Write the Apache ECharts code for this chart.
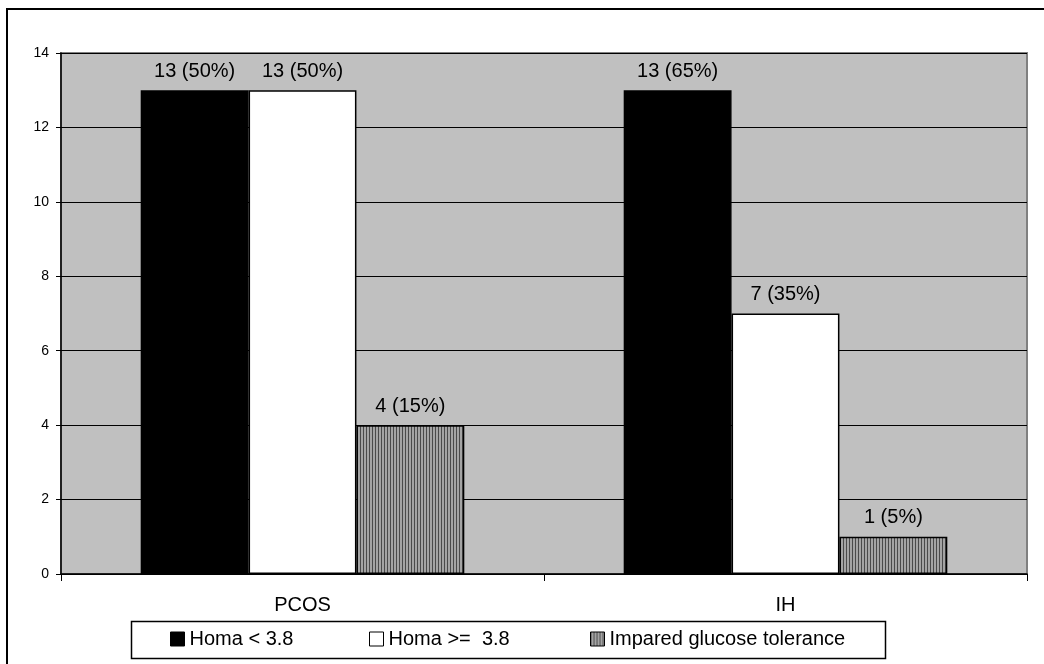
<!DOCTYPE html>
<html>
<head>
<meta charset="utf-8">
<script src="https://cdn.jsdelivr.net/npm/echarts@6/dist/echarts.min.js"></script>
<style>
html,body{margin:0;padding:0;background:#fff;}
#chart{width:1044px;height:664px;}
</style>
</head>
<body>
<div id="chart"></div>
<script>
const categories = ['PCOS', 'IH'];
const seriesNames = ['Homa < 3.8', 'Homa >=  3.8', 'Impared glucose tolerance'];
const homaLow = [13, 13];
const homaHigh = [13, 7];
const impaired = [4, 1];
const homaLowLabels = ['13 (50%)', '13 (65%)'];
const homaHighLabels = ['13 (50%)', '7 (35%)'];
const impairedLabels = ['4 (15%)', '1 (5%)'];
const yTicks = [0, 2, 4, 6, 8, 10, 12, 14];

// vertical stripe pattern
const pc = document.createElement('canvas');
pc.width = 3; pc.height = 4;
const pctx = pc.getContext('2d');
pctx.fillStyle = '#a4a4a4'; pctx.fillRect(0, 0, 3, 4);
pctx.fillStyle = '#4a4a4a'; pctx.fillRect(0, 0, 1, 4);
const stripe = { image: pc, repeat: 'repeat' };

const FONT = 'Liberation Sans, Arial, sans-serif';

function mkSeries(name, values, labels, color) {
  return {
    name: name,
    type: 'bar',
    data: values,
    barGap: '0%',
    barCategoryGap: '33%',
    itemStyle: { color: color, borderColor: '#000', borderWidth: 1.5 },
    label: {
      show: true,
      position: 'top',
      distance: 9,
      fontFamily: FONT,
      fontSize: 20,
      color: '#000',
      formatter: function (p) { return labels[p.dataIndex]; }
    },
    emphasis: { disabled: true }
  };
}

function mkLegend(name, left) {
  return {
    data: [name],
    left: left,
    top: 629,
    padding: 0,
    itemWidth: 14,
    itemHeight: 14,
    icon: 'rect',
    selectedMode: false,
    textStyle: { fontFamily: FONT, fontSize: 20, color: '#000' },
    itemStyle: { borderColor: '#000', borderWidth: 1 }
  };
}

const chart = echarts.init(document.getElementById('chart'), null, { renderer: 'canvas' });
chart.setOption({
  animation: false,
  backgroundColor: '#fff',
  grid: {
    left: 61, right: 17, top: 53, bottom: 90,
    show: true,
    backgroundColor: '#c0c0c0',
    borderColor: '#808080',
    borderWidth: 2
  },
  xAxis: {
    type: 'category',
    data: categories,
    axisLine: { lineStyle: { color: '#000', width: 1.5 } },
    axisTick: { show: true, length: 7, lineStyle: { color: '#000', width: 1 } },
    axisLabel: { margin: 21, fontFamily: FONT, fontSize: 20, color: '#000' },
    splitLine: { show: false }
  },
  yAxis: {
    type: 'value',
    min: yTicks[0],
    max: yTicks[yTicks.length - 1],
    interval: 2,
    axisLine: { show: true, lineStyle: { color: '#000', width: 1.5 } },
    axisTick: { show: true, length: 5, lineStyle: { color: '#000' } },
    axisLabel: { margin: 12, fontFamily: FONT, fontSize: 14, color: '#000' },
    splitLine: { show: true, lineStyle: { color: '#000', width: 1 } }
  },
  legend: [
    mkLegend(seriesNames[0], 170),
    mkLegend(seriesNames[1], 369),
    mkLegend(seriesNames[2], 590)
  ],
  series: [
    mkSeries(seriesNames[0], homaLow, homaLowLabels, '#000'),
    mkSeries(seriesNames[1], homaHigh, homaHighLabels, '#fff'),
    mkSeries(seriesNames[2], impaired, impairedLabels, stripe)
  ],
  graphic: [
    {
      type: 'rect',
      shape: { x: 7, y: 9, width: 1100, height: 700 },
      style: { fill: 'none', stroke: '#000', lineWidth: 2 },
      silent: true, z: 100
    },
    {
      type: 'rect',
      shape: { x: 131.5, y: 621.5, width: 754, height: 37 },
      style: { fill: 'none', stroke: '#000', lineWidth: 1.5 },
      silent: true, z: 100
    }
  ]
});
</script>
</body>
</html>
